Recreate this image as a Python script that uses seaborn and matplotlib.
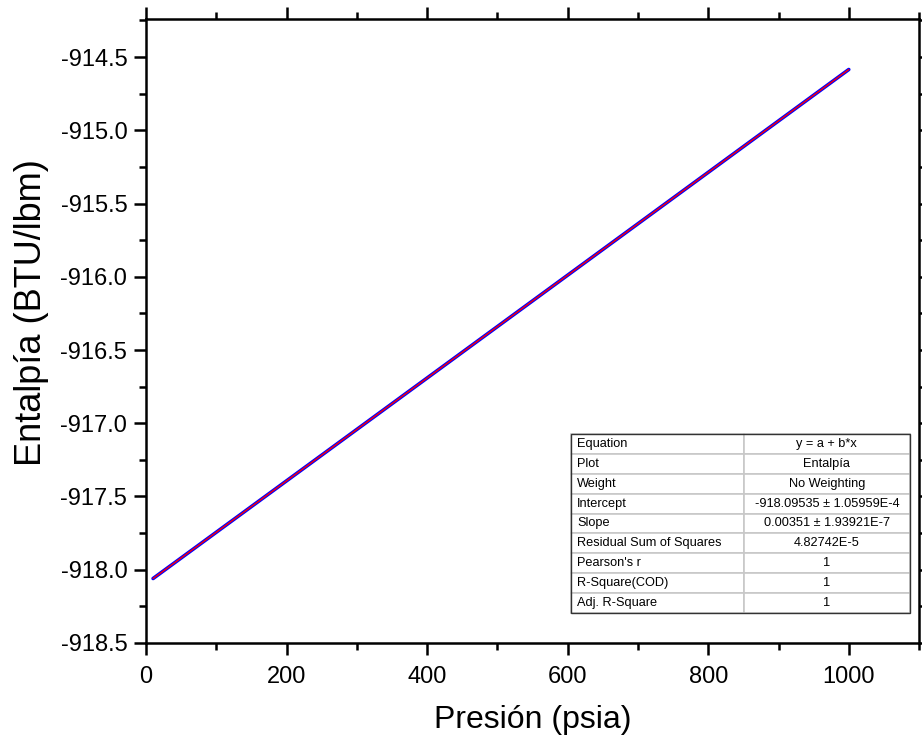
import matplotlib
matplotlib.use('Agg')
import matplotlib.pyplot as plt
import seaborn as sns
import pandas as pd
from matplotlib.patches import Rectangle
from matplotlib.ticker import MultipleLocator

sns.set_style('ticks')
plt.rcParams['font.family'] = ['Liberation Sans', 'DejaVu Sans']
plt.rcParams['text.color'] = 'black'
plt.rcParams['axes.labelcolor'] = 'black'
plt.rcParams['xtick.color'] = 'black'
plt.rcParams['ytick.color'] = 'black'

# datos
presion = [10, 100, 200, 300, 400, 500, 600, 700, 800, 900, 1000]
entalpia = [-918.060, -917.744, -917.393, -917.042, -916.691, -916.340,
            -915.989, -915.638, -915.287, -914.936, -914.585]

# tabla del ajuste lineal
tabla_nombres = ['Equation', 'Plot', 'Weight', 'Intercept', 'Slope',
                 'Residual Sum of Squares', "Pearson's r", 'R-Square(COD)', 'Adj. R-Square']
tabla_valores = ['y = a + b*x', 'Entalpía', 'No Weighting', '-918.09535 ± 1.05959E-4',
                 '0.00351 ± 1.93921E-7', '4.82742E-5', '1', '1', '1']

df = pd.DataFrame({'Presion': presion, 'Entalpia': entalpia})

fig = plt.figure(figsize=(9.22, 7.44), dpi=100)
ax = fig.add_axes([0.1584, 0.1358, 0.8384, 0.8387])

sns.lineplot(data=df, x='Presion', y='Entalpia', ax=ax, color='#0000FF', linewidth=2.6)
sns.regplot(data=df, x='Presion', y='Entalpia', ax=ax, scatter=False, ci=None,
            truncate=True, color='#FF0000', line_kws={'linewidth': 1.0})

ax.set_xlim(0, 1100)
ax.set_ylim(-918.5, -914.24)
ax.xaxis.set_major_locator(MultipleLocator(200))
ax.xaxis.set_minor_locator(MultipleLocator(100))
ax.yaxis.set_major_locator(MultipleLocator(0.5))
ax.yaxis.set_minor_locator(MultipleLocator(0.25))
ax.yaxis.set_major_formatter(matplotlib.ticker.FormatStrFormatter('%.1f'))

for s in ax.spines.values():
    s.set_linewidth(1.8)
    s.set_color('black')
    s.set_visible(True)

ax.tick_params(which='both', direction='out', top=True, right=True,
               labeltop=False, labelright=False, width=1.8, color='black')
ax.tick_params(which='major', length=8.5, labelsize=17)
ax.tick_params(axis='x', which='major', pad=8)
ax.tick_params(axis='y', which='major', pad=5)
ax.tick_params(which='minor', length=5)

ax.set_xlabel('Presión (psia)', fontsize=23)
ax.set_ylabel('Entalpía (BTU/lbm)', fontsize=26)
ax.xaxis.set_label_coords(0.5, -0.1)
ax.yaxis.set_label_coords(-0.126, 0.53)

# tabla con los resultados
celdas = [[n, v] for n, v in zip(tabla_nombres, tabla_valores)]
x0, y0, x1, y1 = 0.55, 0.048, 0.988, 0.335
tab = ax.table(cellText=celdas, colWidths=[0.51, 0.49], bbox=[x0, y0, x1 - x0, y1 - y0])
tab.auto_set_font_size(False)
tab.set_fontsize(9.2)
for (r, c), cell in tab.get_celld().items():
    cell.set_edgecolor('#C8C8C8')
    cell.set_linewidth(1.2)
    cell.set_facecolor('white')
    cell.get_text().set_ha('left' if c == 0 else 'center')
    if c == 0:
        cell.PAD = 0.035
ax.add_patch(Rectangle((x0, y0), x1 - x0, y1 - y0, transform=ax.transAxes,
                       fill=False, edgecolor='#333333', linewidth=1.0, zorder=10))

fig.savefig('out.png', dpi=100)
